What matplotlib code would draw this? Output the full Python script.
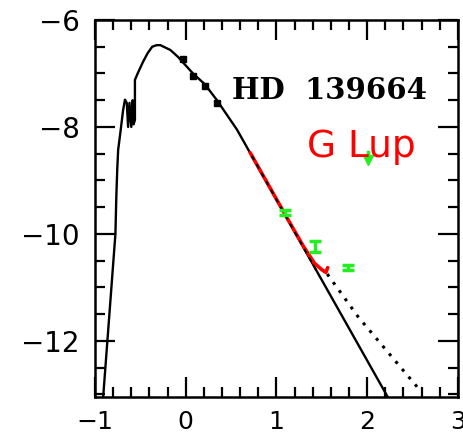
import numpy as np
import matplotlib
matplotlib.use("Agg")
import matplotlib.pyplot as plt
from matplotlib.ticker import MultipleLocator
from matplotlib.patches import Rectangle

# Photosphere model (log lambda, log lambda F_lambda)
model_x = [-0.91, -0.775, -0.765, -0.755, -0.745, -0.72, -0.69, -0.67, -0.65, -0.635,
           -0.62, -0.60, -0.585, -0.575, -0.56, -0.56, -0.53, -0.47, -0.42, -0.37,
           -0.32, -0.28, -0.17, -0.085, 0.08, 0.21, 0.344, 0.565, 2.20, 2.23]
model_y = [-13.05, -10.0, -9.3, -8.8, -8.43, -8.1, -7.68, -7.49, -7.55, -8.0,
           -7.55, -8.0, -7.5, -7.95, -7.87, -7.12, -7.0, -6.78, -6.62, -6.5,
           -6.47, -6.47, -6.56, -6.69, -7.0, -7.2, -7.5, -8.05, -12.97, -13.06]

# photometry on the model
phot_x = [-0.03, 0.08, 0.21, 0.344]
phot_y = [-6.73, -7.05, -7.24, -7.55]

# photosphere + disk (dotted)
disk_x = [1.56, 1.9, 2.57]
disk_y = [-10.75, -11.55, -12.9]

# IRS spectrum (red)
irs_x = [0.71, 0.85, 1.0, 1.15, 1.30, 1.42, 1.50, 1.545, 1.565]
irs_y = [-8.48, -8.9, -9.35, -9.8, -10.24, -10.55, -10.67, -10.72, -10.63]

# green measurements
obs_x = [1.094, 1.424, 1.79]
obs_y = [-9.6, -10.23, -10.63]
obs_err = [0.04, 0.10, 0.05]
lim_x = [2.008]
lim_y = [-8.46]
lim_tip = [-8.62]

fig = plt.figure(figsize=(4.63, 4.38), dpi=100)
ax = fig.add_axes([0.2052, 0.0936, 0.7838, 0.8607])

ax.plot(model_x, model_y, color="black", lw=1.7)
ax.plot(phot_x, phot_y, "s", color="black", ms=4.3)
ax.plot(disk_x, disk_y, color="black", lw=2.2, linestyle=(0, (1, 2.3)))
ax.plot(irs_x, irs_y, color="red", lw=2.6, solid_capstyle="round")
# model shows through the IRS spectrum as black dashes
seg, = ax.plot(model_x, model_y, color="black", lw=1.4, linestyle=(0, (2.5, 2.5)))
clip = Rectangle((irs_x[0], -13.05), irs_x[-1] - irs_x[0] - 0.1, 7, transform=ax.transData)
seg.set_clip_path(clip)

ax.errorbar(obs_x, obs_y, yerr=obs_err, fmt="none", ecolor="#22ee22",
            elinewidth=2.5, capsize=4, capthick=2.5)
ax.plot([lim_x[0], lim_x[0]], [lim_y[0], lim_tip[0]], color="#22ee22", lw=2.5)
ax.plot(lim_x, lim_tip, "v", color="#22ee22", ms=7)

ax.text(0.51, -7.31, "HD  139664", fontsize=21, fontweight="bold",
        family="DejaVu Serif", ha="left", va="center")
ax.text(1.336, -8.37, "G Lup", fontsize=27, color="red", ha="left", va="center")

ax.set_xlim(-1, 3)
ax.set_ylim(-13.05, -6)
ax.xaxis.set_major_locator(MultipleLocator(1))
ax.xaxis.set_minor_locator(MultipleLocator(0.2))
ax.yaxis.set_major_locator(MultipleLocator(2))
ax.yaxis.set_minor_locator(MultipleLocator(0.5))
ax.tick_params(which="both", direction="in", top=True, right=True, width=1.6)
ax.tick_params(axis="x", pad=9, labelsize=18)
ax.tick_params(axis="y", pad=11, labelsize=20)
ax.tick_params(which="major", length=14.5)
ax.tick_params(which="minor", length=7.2)
for s in ax.spines.values():
    s.set_linewidth(1.8)

fig.savefig("out.png", dpi=100)
